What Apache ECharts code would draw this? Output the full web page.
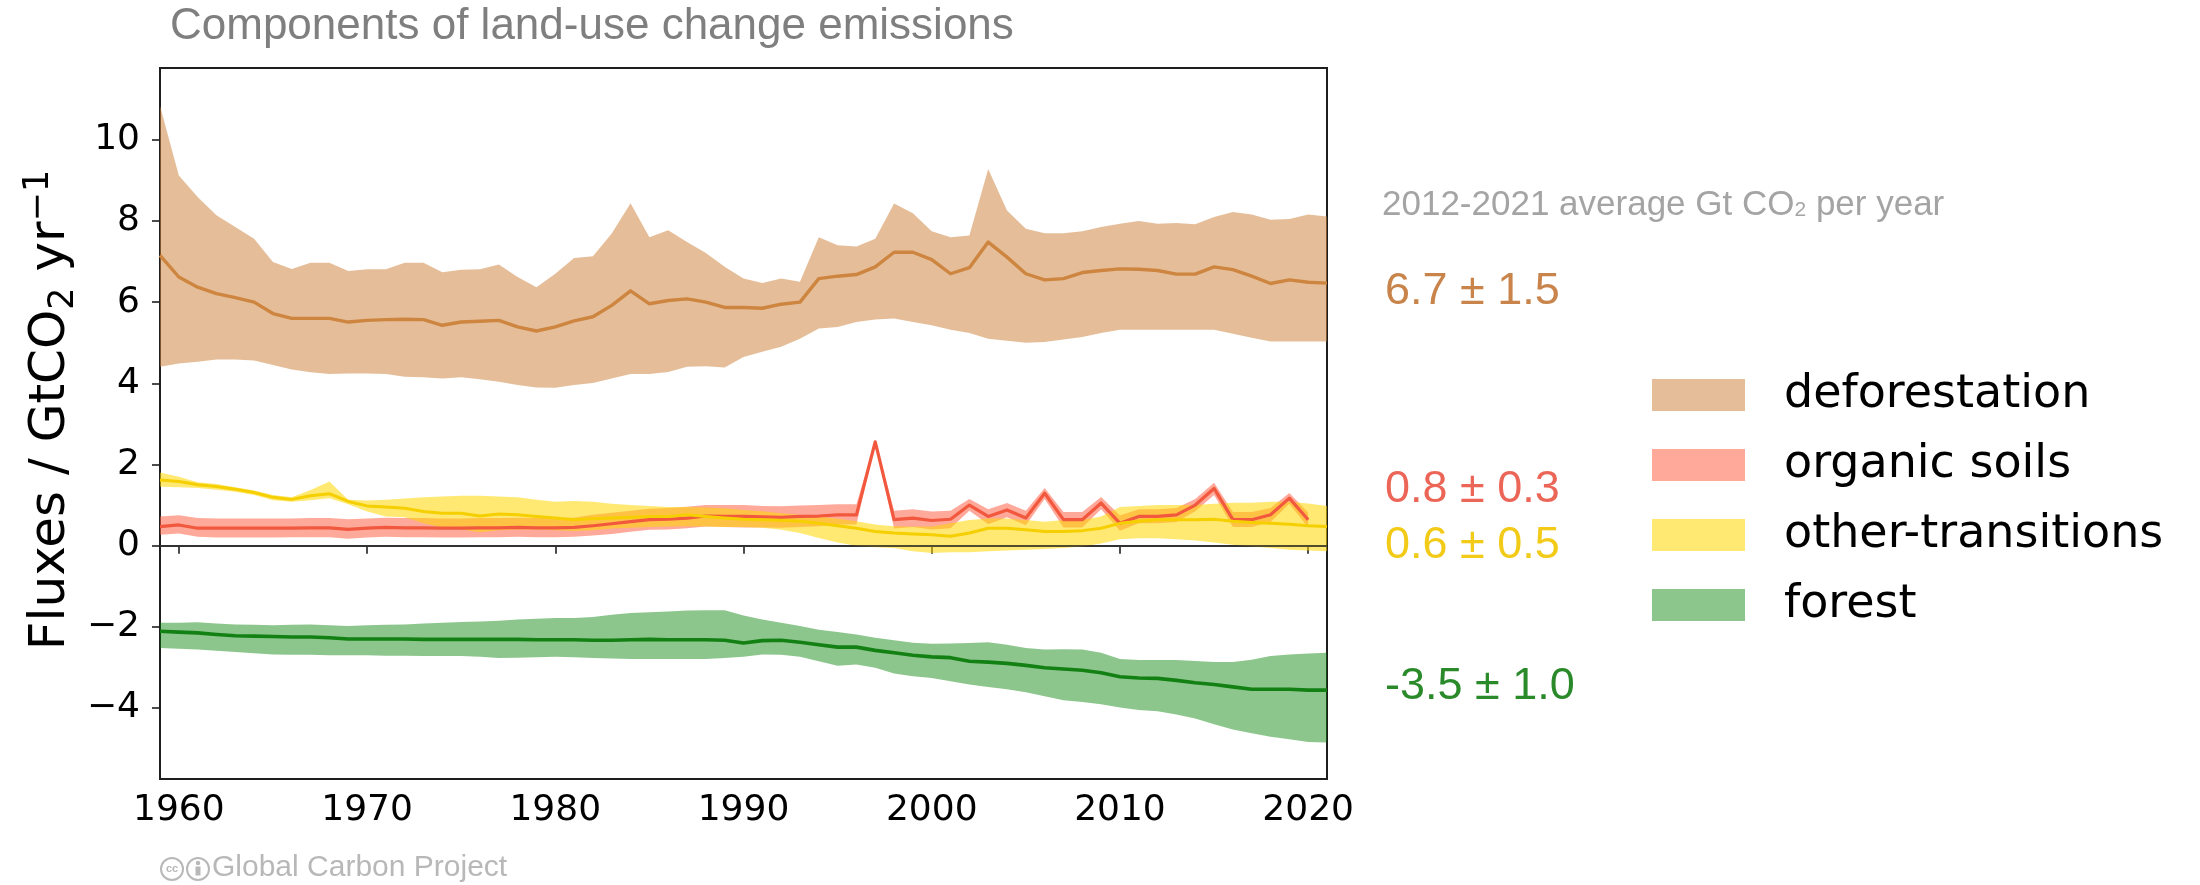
<!DOCTYPE html>
<html>
<head>
<meta charset="utf-8">
<script src="https://cdn.jsdelivr.net/npm/echarts@6/dist/echarts.min.js"></script>
<style>
  html, body { margin: 0; padding: 0; background: #ffffff; }
  #chart { width: 2200px; height: 885px; }
</style>
</head>
<body>
<div id="chart"></div>
<script>
// Years of the land-use change record
const YEARS = [
  1959, 1960, 1961, 1962, 1963, 1964, 1965, 1966, 1967, 1968,
  1969, 1970, 1971, 1972, 1973, 1974, 1975, 1976, 1977, 1978,
  1979, 1980, 1981, 1982, 1983, 1984, 1985, 1986, 1987, 1988,
  1989, 1990, 1991, 1992, 1993, 1994, 1995, 1996, 1997, 1998,
  1999, 2000, 2001, 2002, 2003, 2004, 2005, 2006, 2007, 2008,
  2009, 2010, 2011, 2012, 2013, 2014, 2015, 2016, 2017, 2018,
  2019, 2020, 2021
];

// Deforestation (GtCO2/yr): mean and uncertainty range
const DEF_MEAN = [
  7.15, 6.62, 6.37, 6.21, 6.11, 6.00, 5.72, 5.60, 5.60, 5.60,
  5.51, 5.55, 5.57, 5.58, 5.57, 5.43, 5.51, 5.53, 5.55, 5.39,
  5.29, 5.39, 5.54, 5.64, 5.92, 6.28, 5.96, 6.04, 6.08, 6.00,
  5.87, 5.87, 5.85, 5.95, 6.00, 6.58, 6.64, 6.68, 6.87, 7.23,
  7.23, 7.05, 6.70, 6.85, 7.48, 7.11, 6.70, 6.55, 6.58, 6.73,
  6.78, 6.82, 6.81, 6.78, 6.69, 6.69, 6.87, 6.80, 6.64, 6.46,
  6.55, 6.49, 6.47
];
const DEF_HIGH = [
  10.84, 9.12, 8.59, 8.14, 7.85, 7.56, 6.99, 6.82, 6.97, 6.97,
  6.77, 6.81, 6.81, 6.97, 6.97, 6.74, 6.80, 6.81, 6.93, 6.62,
  6.37, 6.70, 7.09, 7.13, 7.69, 8.44, 7.60, 7.77, 7.48, 7.21,
  6.87, 6.58, 6.47, 6.58, 6.50, 7.60, 7.40, 7.37, 7.56, 8.43,
  8.19, 7.75, 7.60, 7.64, 9.28, 8.26, 7.81, 7.70, 7.70, 7.75,
  7.85, 7.93, 8.00, 7.93, 7.95, 7.92, 8.10, 8.22, 8.16, 8.03,
  8.05, 8.16, 8.11
];
const DEF_LOW = [
  4.41, 4.49, 4.53, 4.59, 4.59, 4.56, 4.45, 4.34, 4.27, 4.23,
  4.24, 4.24, 4.23, 4.16, 4.15, 4.12, 4.15, 4.10, 4.04, 3.96,
  3.90, 3.89, 3.96, 4.01, 4.12, 4.23, 4.23, 4.28, 4.41, 4.42,
  4.39, 4.65, 4.78, 4.90, 5.10, 5.35, 5.39, 5.51, 5.57, 5.60,
  5.51, 5.43, 5.32, 5.24, 5.10, 5.05, 5.00, 5.02, 5.08, 5.14,
  5.24, 5.32, 5.32, 5.32, 5.32, 5.32, 5.32, 5.22, 5.12, 5.03,
  5.03, 5.03, 5.03
];

// Organic soils (GtCO2/yr), record ends in 2020
const ORG_MEAN = [
  0.47, 0.51, 0.43, 0.43, 0.43, 0.43, 0.43, 0.43, 0.44, 0.44,
  0.40, 0.43, 0.45, 0.44, 0.44, 0.43, 0.43, 0.44, 0.44, 0.45,
  0.44, 0.44, 0.45, 0.49, 0.54, 0.59, 0.64, 0.65, 0.68, 0.73,
  0.72, 0.72, 0.71, 0.70, 0.72, 0.73, 0.76, 0.76, 2.56, 0.64,
  0.68, 0.62, 0.65, 1.00, 0.72, 0.88, 0.68, 1.29, 0.64, 0.64,
  1.05, 0.55, 0.72, 0.72, 0.76, 1.00, 1.41, 0.64, 0.64, 0.76,
  1.17, 0.64, null
];
const ORG_HIGH = [
  0.72, 0.75, 0.68, 0.67, 0.67, 0.67, 0.67, 0.67, 0.68, 0.68,
  0.65, 0.67, 0.69, 0.68, 0.68, 0.67, 0.67, 0.68, 0.68, 0.69,
  0.68, 0.68, 0.69, 0.76, 0.81, 0.86, 0.91, 0.93, 0.96, 1.00,
  1.00, 1.00, 0.98, 0.97, 0.99, 1.00, 1.02, 1.02, 2.60, 0.86,
  0.90, 0.84, 0.86, 1.15, 0.90, 1.05, 0.86, 1.42, 0.83, 0.83,
  1.20, 0.74, 0.90, 0.90, 0.93, 1.15, 1.55, 0.83, 0.83, 0.93,
  1.30, 0.82, null
];
const ORG_LOW = [
  0.27, 0.30, 0.22, 0.20, 0.20, 0.20, 0.20, 0.21, 0.21, 0.21,
  0.17, 0.20, 0.22, 0.21, 0.21, 0.20, 0.20, 0.21, 0.21, 0.22,
  0.21, 0.21, 0.22, 0.25, 0.29, 0.34, 0.39, 0.40, 0.43, 0.47,
  0.46, 0.45, 0.45, 0.44, 0.46, 0.48, 0.52, 0.52, 2.52, 0.42,
  0.46, 0.40, 0.43, 0.86, 0.53, 0.70, 0.50, 1.15, 0.45, 0.45,
  0.90, 0.37, 0.55, 0.55, 0.58, 0.85, 1.25, 0.46, 0.46, 0.58,
  1.03, 0.45, null
];

// Other transitions (GtCO2/yr)
const OTH_MEAN = [
  1.62, 1.58, 1.50, 1.46, 1.39, 1.31, 1.19, 1.14, 1.23, 1.28,
  1.09, 0.98, 0.95, 0.92, 0.84, 0.80, 0.80, 0.73, 0.78, 0.76,
  0.72, 0.68, 0.64, 0.66, 0.68, 0.70, 0.72, 0.72, 0.76, 0.72,
  0.68, 0.65, 0.64, 0.62, 0.60, 0.55, 0.49, 0.43, 0.35, 0.31,
  0.29, 0.27, 0.23, 0.31, 0.43, 0.43, 0.39, 0.35, 0.35, 0.37,
  0.43, 0.55, 0.60, 0.64, 0.64, 0.64, 0.65, 0.60, 0.57, 0.55,
  0.53, 0.49, 0.47
];
const OTH_HIGH = [
  1.80, 1.70, 1.56, 1.52, 1.44, 1.36, 1.25, 1.19, 1.37, 1.58,
  1.13, 1.11, 1.13, 1.16, 1.19, 1.21, 1.23, 1.23, 1.21, 1.19,
  1.13, 1.08, 1.10, 1.08, 1.03, 1.00, 0.98, 0.95, 0.95, 0.94,
  0.92, 0.88, 0.85, 0.80, 0.76, 0.72, 0.66, 0.60, 0.52, 0.48,
  0.47, 0.47, 0.55, 0.63, 0.67, 0.67, 0.63, 0.59, 0.63, 0.63,
  0.72, 0.95, 0.98, 1.00, 1.00, 1.00, 1.03, 1.06, 1.06, 1.08,
  1.08, 1.04, 0.98
];
const OTH_LOW = [
  1.45, 1.44, 1.42, 1.38, 1.33, 1.25, 1.12, 1.08, 1.12, 1.17,
  1.02, 0.84, 0.72, 0.70, 0.55, 0.45, 0.40, 0.33, 0.38, 0.40,
  0.40, 0.38, 0.36, 0.38, 0.42, 0.44, 0.46, 0.47, 0.48, 0.47,
  0.46, 0.46, 0.44, 0.39, 0.31, 0.19, 0.08, 0.00, -0.04, -0.06,
  -0.14, -0.18, -0.16, -0.16, -0.14, -0.12, -0.10, -0.08, -0.06, -0.02,
  0.05, 0.16, 0.18, 0.18, 0.16, 0.13, 0.08, 0.02, -0.02, -0.06,
  -0.10, -0.12, -0.14
];

// Forest (GtCO2/yr)
const FOR_MEAN = [
  -2.11, -2.13, -2.15, -2.19, -2.22, -2.23, -2.24, -2.25, -2.25, -2.27,
  -2.30, -2.30, -2.30, -2.30, -2.31, -2.31, -2.31, -2.31, -2.31, -2.31,
  -2.32, -2.32, -2.32, -2.33, -2.33, -2.32, -2.31, -2.32, -2.32, -2.32,
  -2.33, -2.40, -2.34, -2.33, -2.38, -2.44, -2.50, -2.50, -2.58, -2.64,
  -2.70, -2.74, -2.76, -2.85, -2.87, -2.90, -2.95, -3.01, -3.04, -3.07,
  -3.13, -3.23, -3.26, -3.27, -3.32, -3.38, -3.42, -3.48, -3.54, -3.54,
  -3.54, -3.56, -3.56
];
const FOR_HIGH = [
  -1.90, -1.90, -1.89, -1.92, -1.94, -1.95, -1.96, -1.95, -1.94, -1.96,
  -1.98, -1.96, -1.95, -1.94, -1.92, -1.90, -1.88, -1.87, -1.85, -1.82,
  -1.80, -1.78, -1.78, -1.76, -1.70, -1.66, -1.64, -1.62, -1.60, -1.59,
  -1.59, -1.72, -1.82, -1.90, -1.98, -2.07, -2.13, -2.19, -2.27, -2.33,
  -2.39, -2.42, -2.41, -2.40, -2.38, -2.44, -2.52, -2.56, -2.55, -2.56,
  -2.64, -2.79, -2.82, -2.82, -2.82, -2.84, -2.87, -2.87, -2.81, -2.72,
  -2.68, -2.66, -2.64
];
const FOR_LOW = [
  -2.52, -2.54, -2.56, -2.59, -2.62, -2.65, -2.68, -2.69, -2.69, -2.70,
  -2.70, -2.70, -2.71, -2.71, -2.72, -2.72, -2.72, -2.74, -2.77, -2.76,
  -2.75, -2.74, -2.75, -2.77, -2.78, -2.79, -2.79, -2.79, -2.79, -2.79,
  -2.77, -2.74, -2.68, -2.69, -2.74, -2.85, -2.96, -2.93, -3.01, -3.15,
  -3.22, -3.26, -3.34, -3.42, -3.48, -3.54, -3.61, -3.71, -3.81, -3.85,
  -3.91, -3.99, -4.05, -4.08, -4.16, -4.26, -4.40, -4.53, -4.62, -4.71,
  -4.77, -4.84, -4.85
];

// Axis ticks
const X_TICKS = [1960, 1970, 1980, 1990, 2000, 2010, 2020];
const Y_TICKS = [-4, -2, 0, 2, 4, 6, 8, 10];

// Component names and their 2012-2021 averages
const COMPONENTS = ['deforestation', 'organic soils', 'other-transitions', 'forest'];
const AVERAGES = ['6.7 \u00b1 1.5', '0.8 \u00b1 0.3', '0.6 \u00b1 0.5', '-3.5 \u00b1 1.0'];

const TITLE = 'Components of land-use change emissions';
const CREDIT = 'Global Carbon Project';

// Styling per component
const LINE_COLORS = ['#cd853f', '#f2583e', '#f5cf00', '#138013'];
const FILL_COLORS = ['rgba(205,133,63,0.53)', 'rgba(255,99,71,0.55)', 'rgba(255,215,0,0.55)', 'rgba(0,128,0,0.45)'];
const TEXT_COLORS = ['#c8844a', '#ec6658', '#f2ca18', '#2a8a2a'];

const chart = echarts.init(document.getElementById('chart'), null, { renderer: 'canvas' });

// Shaded range between low and high, drawn as one polygon through the axes
function bandSeries(name, low, high, fill) {
  return {
    type: 'custom',
    name: name,
    coordinateSystem: 'cartesian2d',
    data: YEARS.map((y, i) => [y, low[i], high[i]]),
    encode: { x: 0, y: [1, 2] },
    itemStyle: { color: fill },
    silent: true,
    renderItem: function (params, api) {
      if (params.dataIndexInside !== 0) return null;
      const n = params.dataInsideLength;
      const upper = [], lower = [];
      for (let i = 0; i < n; i++) {
        const x = api.value(0, i), lo = api.value(1, i), hi = api.value(2, i);
        if (lo == null || hi == null || isNaN(lo) || isNaN(hi)) continue;
        upper.push(api.coord([x, hi]));
        lower.push(api.coord([x, lo]));
      }
      return {
        type: 'polygon',
        shape: { points: upper.concat(lower.reverse()) },
        style: { fill: fill, stroke: null }
      };
    }
  };
}

function meanSeries(name, values, color, width) {
  return {
    type: 'line',
    name: name + ' mean',
    data: YEARS.map((y, i) => [y, values[i]]),
    showSymbol: false,
    connectNulls: false,
    silent: true,
    lineStyle: { color: color, width: width, join: 'round' },
    itemStyle: { color: color }
  };
}

const groups = [
  [DEF_MEAN, DEF_LOW, DEF_HIGH, 3.4],
  [ORG_MEAN, ORG_LOW, ORG_HIGH, 3.2],
  [OTH_MEAN, OTH_LOW, OTH_HIGH, 3.0],
  [FOR_MEAN, FOR_LOW, FOR_HIGH, 3.6]
];

const series = [];
groups.forEach((g, k) => {
  series.push(bandSeries(COMPONENTS[k], g[1], g[2], FILL_COLORS[k]));
  series.push(meanSeries(COMPONENTS[k], g[0], LINE_COLORS[k], g[3]));
});
// zero reference line
series[series.length - 1].markLine = {
  silent: true,
  symbol: 'none',
  label: { show: false },
  lineStyle: { color: '#3a3a3a', width: 1.6, type: 'solid' },
  data: [{ yAxis: 0 }]
};

const minusFmt = v => (v < 0 ? '\u2212' + Math.abs(v) : String(v));
const SANS = 'Liberation Sans, Arial, sans-serif';

const graphics = [
  {
    type: 'text', x: 170, y: 27,
    style: {
      text: TITLE, fill: '#7f7f7f', fontSize: 44, fontFamily: SANS,
      align: 'left', verticalAlign: 'middle'
    }
  },
  {
    type: 'text', x: 51, y: 410, rotation: Math.PI / 2,
    style: {
      text: '{m|Fluxes / GtCO}{s|2}{m| yr}{p|\u22121}',
      align: 'center', verticalAlign: 'middle',
      fill: '#000',
      rich: {
        m: { fontSize: 50, fontFamily: 'DejaVu Sans', fill: '#000', lineHeight: 64, verticalAlign: 'middle' },
        s: { fontSize: 35, fontFamily: 'DejaVu Sans', fill: '#000', lineHeight: 64, verticalAlign: 'bottom', padding: [0, 0, 2, 0] },
        p: { fontSize: 35, fontFamily: 'DejaVu Sans', fill: '#000', lineHeight: 64, verticalAlign: 'top', padding: [2, 0, 0, 0] }
      }
    }
  },
  {
    type: 'text', x: 1382, y: 205,
    style: {
      text: '{a|2012-2021 average Gt CO}{b|2}{a| per year}',
      align: 'left', verticalAlign: 'middle',
      rich: {
        a: { fontSize: 35, fontFamily: SANS, fill: '#a4a4a4', lineHeight: 44, verticalAlign: 'middle' },
        b: { fontSize: 21, fontFamily: SANS, fill: '#a4a4a4', lineHeight: 44, verticalAlign: 'bottom', padding: [0, 0, 6, 0] }
      }
    }
  },
  // credit line with licence marks
  {
    type: 'circle', shape: { cx: 172, cy: 869, r: 11 },
    style: { fill: 'none', stroke: '#b8b8b8', lineWidth: 2 }
  },
  {
    type: 'text', x: 172, y: 869,
    style: { text: 'cc', fontSize: 11, fontWeight: 'bold', fill: '#b8b8b8', align: 'center', verticalAlign: 'middle', fontFamily: SANS }
  },
  {
    type: 'circle', shape: { cx: 198, cy: 869, r: 11 },
    style: { fill: 'none', stroke: '#b8b8b8', lineWidth: 2 }
  },
  {
    type: 'circle', shape: { cx: 198, cy: 863, r: 2.2 },
    style: { fill: '#b8b8b8' }
  },
  {
    type: 'rect', shape: { x: 195.5, y: 866.5, width: 5, height: 9 },
    style: { fill: '#b8b8b8' }
  },
  {
    type: 'text', x: 212, y: 868,
    style: { text: CREDIT, fontSize: 30, fill: '#b8b8b8', align: 'left', verticalAlign: 'middle', fontFamily: SANS }
  }
];

const AVG_Y = [292, 490, 546, 687];
AVERAGES.forEach((t, k) => {
  graphics.push({
    type: 'text', x: 1385, y: AVG_Y[k],
    style: {
      text: t, fill: TEXT_COLORS[k], fontSize: 45, fontFamily: SANS,
      align: 'left', verticalAlign: 'middle'
    }
  });
});

chart.setOption({
  animation: false,
  backgroundColor: '#ffffff',
  textStyle: { fontFamily: 'DejaVu Sans' },
  grid: {
    left: 160, top: 68, width: 1167, height: 711,
    show: true, borderColor: '#1e1e1e', borderWidth: 2, backgroundColor: 'transparent'
  },
  legend: {
    orient: 'vertical',
    left: 1652, top: 372, padding: 0,
    itemWidth: 93, itemHeight: 32, itemGap: 24,
    icon: 'rect',
    selectedMode: false,
    data: COMPONENTS.map((n, k) => ({ name: n, itemStyle: { color: FILL_COLORS[k] } })),
    textStyle: { fontSize: 46, fontFamily: 'DejaVu Sans', color: '#000', padding: [0, 0, 0, 34] }
  },
  xAxis: {
    type: 'value', min: 1959, max: 2021,
    axisLine: { show: true, lineStyle: { color: '#1e1e1e', width: 2 } },
    axisTick: { show: true, customValues: X_TICKS, length: 8, lineStyle: { color: '#1e1e1e', width: 1.6 } },
    axisLabel: { customValues: X_TICKS, fontSize: 36, color: '#000', fontFamily: 'DejaVu Sans', margin: 14, formatter: v => String(v) },
    splitLine: { show: false }
  },
  yAxis: {
    type: 'value', min: -5.75, max: 11.77,
    axisLine: { show: true, lineStyle: { color: '#1e1e1e', width: 2 } },
    axisTick: { show: true, customValues: Y_TICKS, length: 8, lineStyle: { color: '#1e1e1e', width: 1.6 } },
    axisLabel: { customValues: Y_TICKS, fontSize: 36, color: '#000', fontFamily: 'DejaVu Sans', margin: 20, formatter: minusFmt },
    splitLine: { show: false }
  },
  series: series,
  graphic: graphics
});
</script>
</body>
</html>
